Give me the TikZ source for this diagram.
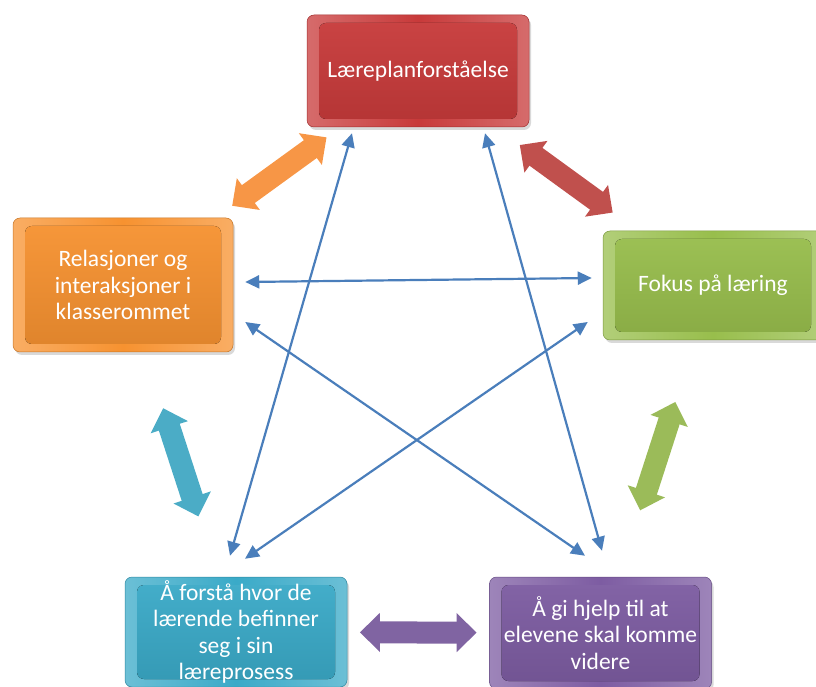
\documentclass[tikz,border=0pt]{standalone}
\usepackage{fontspec}
\setmainfont{Carlito}
\usepackage{xcolor}
\usetikzlibrary{arrows.meta}
\usetikzlibrary{calc}
\usetikzlibrary{shadows}

\definecolor{boxred}{RGB}{200,58,58}
\definecolor{boxorange}{RGB}{247,146,48}
\definecolor{boxgreen}{RGB}{152,190,76}
\definecolor{boxcyan}{RGB}{58,170,200}
\definecolor{boxpurple}{RGB}{125,92,162}
\definecolor{arrred}{RGB}{192,80,77}
\definecolor{arrorange}{RGB}{247,150,70}
\definecolor{arrgreen}{RGB}{155,187,89}
\definecolor{arrcyan}{RGB}{75,172,198}
\definecolor{arrpurple}{RGB}{128,100,162}
\definecolor{lineblue}{RGB}{74,126,187}

\tikzset{
  box/.style={rectangle, rounded corners=7pt, align=center, text=white,
    font=\fontsize{23.5}{26.5}\selectfont, draw=#1!80!black, line width=.5pt,
    left color=#1!75!white, right color=#1!75!white, middle color=#1,
    drop shadow={opacity=.3,shadow xshift=2pt,shadow yshift=-3pt},
    path picture={\fill[top color=#1!95!white, bottom color=#1!90!black]
      ([shift={(12pt,-8pt)}]path picture bounding box.north west) rectangle
      ([shift={(-12pt,8pt)}]path picture bounding box.south east);}},
  fat/.style={line width=22pt, draw=#1,
    {Triangle[length=20pt,width=38pt]}-{Triangle[length=20pt,width=38pt]}},
  link/.style={draw=lineblue, line width=2.2pt},
  >={Triangle[length=14pt,width=13pt]}
}

\begin{document}
\begin{tikzpicture}[x=1pt,y=1pt]
  \useasboundingbox (0,0) rectangle (816,686);

  \node (top) [box=boxred, minimum width=222pt, minimum height=112pt]
    at (418,615) {Læreplanforståelse};
  \node (rel) [box=boxorange, minimum width=220pt, minimum height=134pt]
    at (123,401) {Relasjoner og\\interaksjoner i\\klasserommet};
  \node (fokus) [box=boxgreen, minimum width=220pt, minimum height=109pt]
    at (713,400.5) {Fokus på læring};
  \node (kilde) [box=boxcyan, minimum width=222pt, minimum height=110pt]
    at (236,54) {Å forstå hvor de\\lærende befinner\\seg i sin\\læreprosess};
  \node (hjelp) [box=boxpurple, minimum width=222pt, minimum height=112pt]
    at (600.5,53) {Å gi hjelp til at\\elevene skal komme\\videre};

  \draw[fat=arrorange] ($(rel)!.37!(top)$) -- ($(rel)!.69!(top)$);
  \draw[fat=arrred] ($(top)!.345!(fokus)$) -- ($(top)!.66!(fokus)$);
  \draw[fat=arrcyan] ($(rel)!.355!(kilde)$) -- ($(rel)!.667!(kilde)$);
  \draw[fat=arrgreen] ($(fokus)!.335!(hjelp)$) -- ($(fokus)!.647!(hjelp)$);
  \draw[fat=arrpurple] ($(kilde)!.34!(hjelp)$) -- ($(kilde)!.66!(hjelp)$);

  \path (node cs:name=rel,anchor=east) +(12,3) coordinate (rfo) {};
  \path (node cs:name=fokus,anchor=west) +(-11,7.5) coordinate (fre) {};
  \draw[link,<->] (rfo) -- (fre);
  \path (node cs:name=rel,anchor=east) +(12,-37) coordinate (rhj) {};
  \path (node cs:name=hjelp,anchor=north) +(-15.5,21) coordinate (hre) {};
  \draw[link,<->] (rhj) -- (hre);
  \path (node cs:name=fokus,anchor=west) +(-15,-36.5) coordinate (fki) {};
  \path (node cs:name=kilde,anchor=north) +(9,18) coordinate (kfo) {};
  \draw[link,<->] (fki) -- (kfo);
  \path (node cs:name=top,anchor=south) +(-66,-6) coordinate (tki) {};
  \path (node cs:name=kilde,anchor=north) +(-6,21) coordinate (kto) {};
  \draw[link,<->] (tki) -- (kto);
  \path (node cs:name=top,anchor=south) +(67,-6) coordinate (thj) {};
  \path (node cs:name=hjelp,anchor=north) +(1.5,26) coordinate (hto) {};
  \draw[link,<->] (thj) -- (hto);
\end{tikzpicture}
\end{document}
